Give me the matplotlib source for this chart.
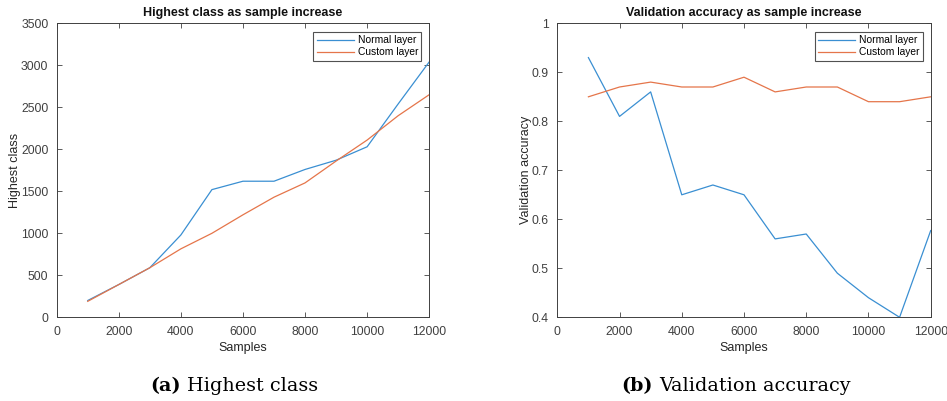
"""Highest class and validation accuracy vs number of samples"""

import matplotlib
matplotlib.use('Agg')
import matplotlib.pyplot as plt

samples = [1000, 2000, 3000, 4000, 5000, 6000, 7000, 8000, 9000, 10000,
           11000, 12000]

highest_normal = [200, 390, 590, 980, 1520, 1620, 1620, 1760, 1870, 2030,
                  2540, 3040]
highest_custom = [190, 390, 590, 815, 1000, 1220, 1430, 1600, 1860, 2110,
                  2400, 2650]

acc_normal = [0.93, 0.81, 0.86, 0.65, 0.67, 0.65, 0.56, 0.57, 0.49, 0.44,
              0.40, 0.577]
acc_custom = [0.85, 0.87, 0.88, 0.87, 0.87, 0.89, 0.86, 0.87, 0.87, 0.84,
              0.84, 0.85]

x_ticks = [0, 2000, 4000, 6000, 8000, 10000, 12000]
labels = ['Normal layer', 'Custom layer']
blue = '#3a8fd2'
orange = '#e5754a'
ax_grey = '#404040'

plt.rcParams['font.family'] = ['Liberation Sans', 'DejaVu Sans']


def style_axes(ax, xlabel, ylabel, title):
    """Matlab-like box axes"""
    ax.set_xlim(0, 12000)
    ax.set_xticks(x_ticks)
    ax.tick_params(direction='in', top=True, right=True, length=3.5,
                   width=0.6, labelsize=8.8, colors=ax_grey, pad=6)
    for spine in ax.spines.values():
        spine.set_color(ax_grey)
        spine.set_linewidth(0.7)
    ax.set_xlabel(xlabel, fontsize=9, color='#262626', labelpad=3.5)
    ax.set_ylabel(ylabel, fontsize=9, color='#262626', labelpad=0)
    ax.set_title(title, fontsize=9, fontweight='bold', color='#111111',
                 pad=5.5)
    leg = ax.legend(labels, loc='upper right', fontsize=7.4, frameon=True,
                    fancybox=False, borderpad=0.3, handlelength=3.6,
                    handletextpad=0.4, labelspacing=0.2, borderaxespad=0,
                    bbox_to_anchor=(1 - 8 / 373, 1 - 9 / 294))
    leg.get_frame().set_edgecolor('#262626')
    leg.get_frame().set_linewidth(0.8)


fig = plt.figure(figsize=(9.47, 4.01), dpi=100)

ax1 = fig.add_axes([56.7 / 947, 1 - 317.3 / 401, 372.5 / 947, 294 / 401])
ax1.plot(samples, highest_normal, color=blue, lw=0.9)
ax1.plot(samples, highest_custom, color=orange, lw=0.9)
ax1.set_ylim(0, 3500)
ax1.set_yticks(range(0, 3501, 500))
style_axes(ax1, 'Samples', 'Highest class', 'Highest class as sample increase')

ax2 = fig.add_axes([557.3 / 947, 1 - 317.3 / 401, 373.4 / 947, 294 / 401])
ax2.plot(samples, acc_normal, color=blue, lw=0.9)
ax2.plot(samples, acc_custom, color=orange, lw=0.9)
ax2.set_ylim(0.4, 1)
ax2.set_yticks([0.4, 0.5, 0.6, 0.7, 0.8, 0.9, 1])
ax2.set_yticklabels(['0.4', '0.5', '0.6', '0.7', '0.8', '0.9', '1'])
style_axes(ax2, 'Samples', 'Validation accuracy',
           'Validation accuracy as sample increase')

# sub-figure captions: bold tag, then plain text
cap_font = ['DejaVu Serif']
for x, tag, text in [(181 / 947, '(a)', 'Highest class'),
                     (653 / 947, '(b)', 'Validation accuracy')]:
    fig.text(x, 1 - 386 / 401, tag, fontsize=13.8, fontweight='bold',
             family=cap_font, ha='right', va='center')
    fig.text(x + 6 / 947, 1 - 386 / 401, text, fontsize=13.8,
             family=cap_font, ha='left', va='center')

fig.savefig('out.png', dpi=100)
